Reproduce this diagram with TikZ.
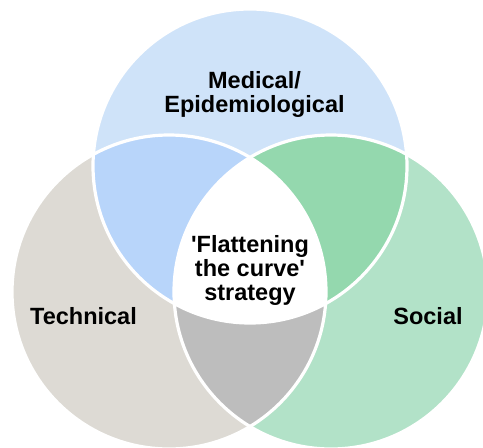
\documentclass[tikz,border=0pt]{standalone}
\usepackage{fontspec}
\setmainfont{Liberation Sans}[Ligatures=TeXOff]
\definecolor{topc}{HTML}{CFE3F9}
\definecolor{leftc}{HTML}{DDDAD4}
\definecolor{rightc}{HTML}{B2E2C8}
\definecolor{tlc}{HTML}{B8D5FA}
\definecolor{trc}{HTML}{94D8AE}
\definecolor{lrc}{HTML}{BDBDBD}
\begin{document}
\begin{tikzpicture}[x=1pt,y=-1pt,
  lbl/.style={font=\fontsize{23.5}{24}\selectfont\bfseries, align=center, inner sep=0pt, anchor=base},
  ring/.style={draw=white, line width=3.2pt}]
\useasboundingbox (0,0) rectangle (483,448);
\clip (0,0) rectangle (483,448);
\coordinate (T) at (250,166);
\coordinate (L) at (169,292);
\coordinate (R) at (331,292);
\fill[topc] (T) circle (157pt);
\fill[leftc] (L) circle (157pt);
\fill[rightc] (R) circle (157pt);
\begin{scope}
  \clip (T) circle (157pt);
  \fill[tlc] (L) circle (157pt);
  \fill[trc] (R) circle (157pt);
\end{scope}
\begin{scope}
  \clip (L) circle (157pt);
  \fill[lrc] (R) circle (157pt);
\end{scope}
\begin{scope}
  \clip (T) circle (157pt);
  \clip (L) circle (157pt);
  \fill[white] (R) circle (157pt);
\end{scope}
\draw[ring] (T) circle (157pt);
\draw[ring] (L) circle (157pt);
\draw[ring] (R) circle (157pt);
\node[lbl] (med) at (254.5,112) {Medical/\\Epidemiological};
\node[lbl] (tech) at (83.5,324) {Technical};
\node[lbl] (soc) at (428,324) {Social};
\node[lbl] (ctr) at (250,300) {'Flattening\\the curve'\\strategy};
\end{tikzpicture}
\end{document}
